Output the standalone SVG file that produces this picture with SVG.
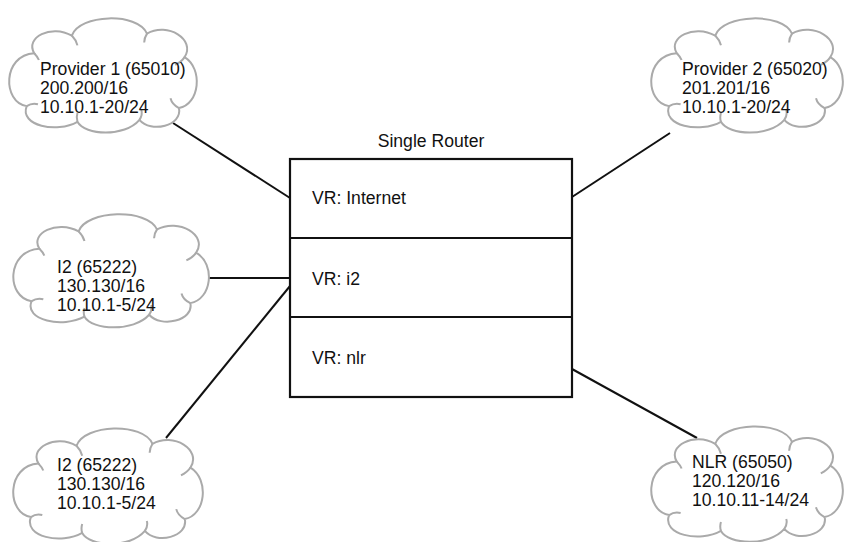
<svg xmlns="http://www.w3.org/2000/svg" xmlns:xlink="http://www.w3.org/1999/xlink" width="846" height="542" viewBox="0 0 846 542">
<style>
.cloud{fill:#fff;stroke:#aaaaaa;stroke-width:2;vector-effect:non-scaling-stroke}
.hook{fill:none;stroke:#aaaaaa;stroke-width:2;vector-effect:non-scaling-stroke}
.t{font-family:"Liberation Sans",Arial,Helvetica,sans-serif;font-size:17.6px;fill:#111}
.box{fill:#fff;stroke:#111;stroke-width:2.2}
.conn{stroke:#111;stroke-width:2;fill:none}
</style>
<defs>
<g id="cloudShape">
<path class="cloud" d="M 30,40 C 20,24 48,10 70,22 C 78,0 140,-2 150,20 C 172,8 202,26 190,44 C 210,56 206,92 184,96 C 188,114 154,122 142,108 C 126,126 84,124 76,110 C 54,122 14,114 22,94 C -4,90 -4,42 30,40 Z"/>
<path class="hook" d="M 70,22 c 3,3 5,6 6,10 M 150,20 c -2,3 -3,6 -3,9 M 190,44 c -2,3 -6,6 -10,8 M 184,96 c -4,-2 -8,-6 -9,-10 M 142,108 c 2,-3 3,-7 2,-10 M 76,110 c -1,-3 -1,-6 0,-9 M 22,94 c 3,-2 8,-3 12,-2 M 30,40 c 2,2 4,4 5,7"/>
</g>
</defs>
<g id="connectors">
<line class="conn" x1="173" y1="123" x2="290" y2="198"/>
<line class="conn" x1="209" y1="278" x2="290" y2="278"/>
<line class="conn" x1="290" y1="286" x2="166" y2="438"/>
<line class="conn" x1="572" y1="197" x2="670" y2="133"/>
<line class="conn" x1="572" y1="369" x2="697" y2="438"/>
</g>
<g id="router">
<text class="t" x="431" y="147" text-anchor="middle">Single Router</text>
<rect class="box" x="290" y="159" width="282" height="238"/>
<line class="box" x1="290" y1="238" x2="572" y2="238"/>
<line class="box" x1="290" y1="317" x2="572" y2="317"/>
</g>
<g id="vr-internet"><text class="t" x="312" y="204">VR: Internet</text></g>
<g id="vr-i2"><text class="t" x="312" y="285">VR: i2</text></g>
<g id="vr-nlr"><text class="t" x="312" y="364">VR: nlr</text></g>
<g id="provider1">
<use xlink:href="#cloudShape" transform="translate(6,14) scale(0.94,0.98)"/>
<text class="t" x="40" y="75">Provider 1 (65010)</text>
<text class="t" x="40" y="94">200.200/16</text>
<text class="t" x="40" y="113">10.10.1-20/24</text>
</g>
<g id="provider2">
<use xlink:href="#cloudShape" transform="translate(648,14) scale(0.96,0.98)"/>
<text class="t" x="682" y="75">Provider 2 (65020)</text>
<text class="t" x="682" y="94">201.201/16</text>
<text class="t" x="682" y="113">10.10.1-20/24</text>
</g>
<g id="i2-top">
<use xlink:href="#cloudShape" transform="translate(10,210) scale(0.98,0.97)"/>
<text class="t" x="57" y="273">I2 (65222)</text>
<text class="t" x="57" y="292">130.130/16</text>
<text class="t" x="57" y="311">10.10.1-5/24</text>
</g>
<g id="i2-bottom">
<use xlink:href="#cloudShape" transform="translate(10,424) scale(0.95,0.99)"/>
<text class="t" x="57" y="471">I2 (65222)</text>
<text class="t" x="57" y="490">130.130/16</text>
<text class="t" x="57" y="509">10.10.1-5/24</text>
</g>
<g id="nlr">
<use xlink:href="#cloudShape" transform="translate(648,422) scale(0.96,0.99)"/>
<text class="t" x="692" y="468">NLR (65050)</text>
<text class="t" x="692" y="487">120.120/16</text>
<text class="t" x="692" y="506">10.10.11-14/24</text>
</g>
</svg>
